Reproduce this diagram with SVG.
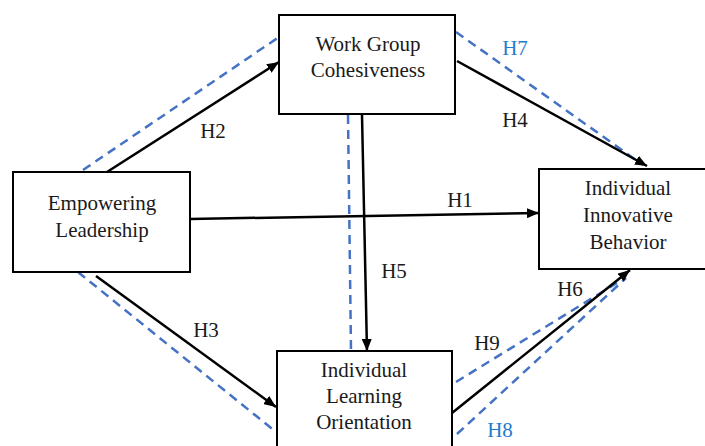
<svg xmlns="http://www.w3.org/2000/svg" width="705" height="446" viewBox="0 0 705 446">
<style>
  .box { fill: #fff; stroke: #000; stroke-width: 2; }
  text { font-family: 'Liberation Serif', 'Times New Roman', serif; font-size: 21px; fill: #1a1a1a; text-anchor: middle; }
  .blue { fill: #1f7ccc; }
  .arr { stroke: #000; stroke-width: 2.5; fill: none; marker-end: url(#ah); }
  .dash { stroke: #4472C4; stroke-width: 2.5; fill: none; stroke-dasharray: 9 6; }
</style>
<defs>
  <marker id="ah" markerUnits="userSpaceOnUse" markerWidth="13" markerHeight="10" refX="12" refY="5" orient="auto">
    <path d="M0,0 L12,5 L0,10 z" fill="#000"/>
  </marker>
</defs>
<rect width="705" height="446" fill="#fff"/>
<g id="connectors">
  <line class="dash" x1="83" y1="170" x2="279" y2="37"/>
  <line class="dash" x1="456" y1="32" x2="643" y2="165"/>
  <line class="dash" x1="78" y1="272" x2="276" y2="432"/>
  <line class="dash" x1="348" y1="115" x2="351" y2="351"/>
  <line class="dash" x1="456" y1="382" x2="620" y2="281"/>
  <line class="dash" x1="457" y1="434" x2="626" y2="278"/>
  <line class="arr" x1="190" y1="219" x2="539" y2="213"/>
  <line class="arr" x1="107" y1="172" x2="279" y2="62"/>
  <line class="arr" x1="96" y1="276" x2="276" y2="407"/>
  <line class="arr" x1="457" y1="61" x2="647" y2="166"/>
  <line class="arr" x1="362" y1="115" x2="367" y2="351"/>
  <line class="arr" x1="452" y1="413" x2="630" y2="270"/>
  <text x="213" y="138">H2</text>
  <text class="blue" x="515" y="55">H7</text>
  <text x="515" y="127">H4</text>
  <text x="460" y="207">H1</text>
  <text x="394" y="278">H5</text>
  <text x="206" y="337">H3</text>
  <text x="570" y="296">H6</text>
  <text x="487" y="350">H9</text>
  <text class="blue" x="500" y="437">H8</text>
</g>
<g id="work-group-cohesiveness">
  <rect class="box" x="279" y="15" width="176" height="99"/>
  <text x="368" y="51">Work Group</text>
  <text x="368" y="77">Cohesiveness</text>
</g>
<g id="empowering-leadership">
  <rect class="box" x="13" y="172" width="177" height="100"/>
  <text x="102" y="210">Empowering</text>
  <text x="102" y="237">Leadership</text>
</g>
<g id="individual-innovative-behavior">
  <rect class="box" x="539" y="169" width="178" height="100"/>
  <text x="628" y="195">Individual</text>
  <text x="628" y="222">Innovative</text>
  <text x="628" y="249">Behavior</text>
</g>
<g id="individual-learning-orientation">
  <rect class="box" x="277" y="351" width="175" height="100"/>
  <text x="364" y="377">Individual</text>
  <text x="364" y="403">Learning</text>
  <text x="364" y="429">Orientation</text>
</g>
</svg>
